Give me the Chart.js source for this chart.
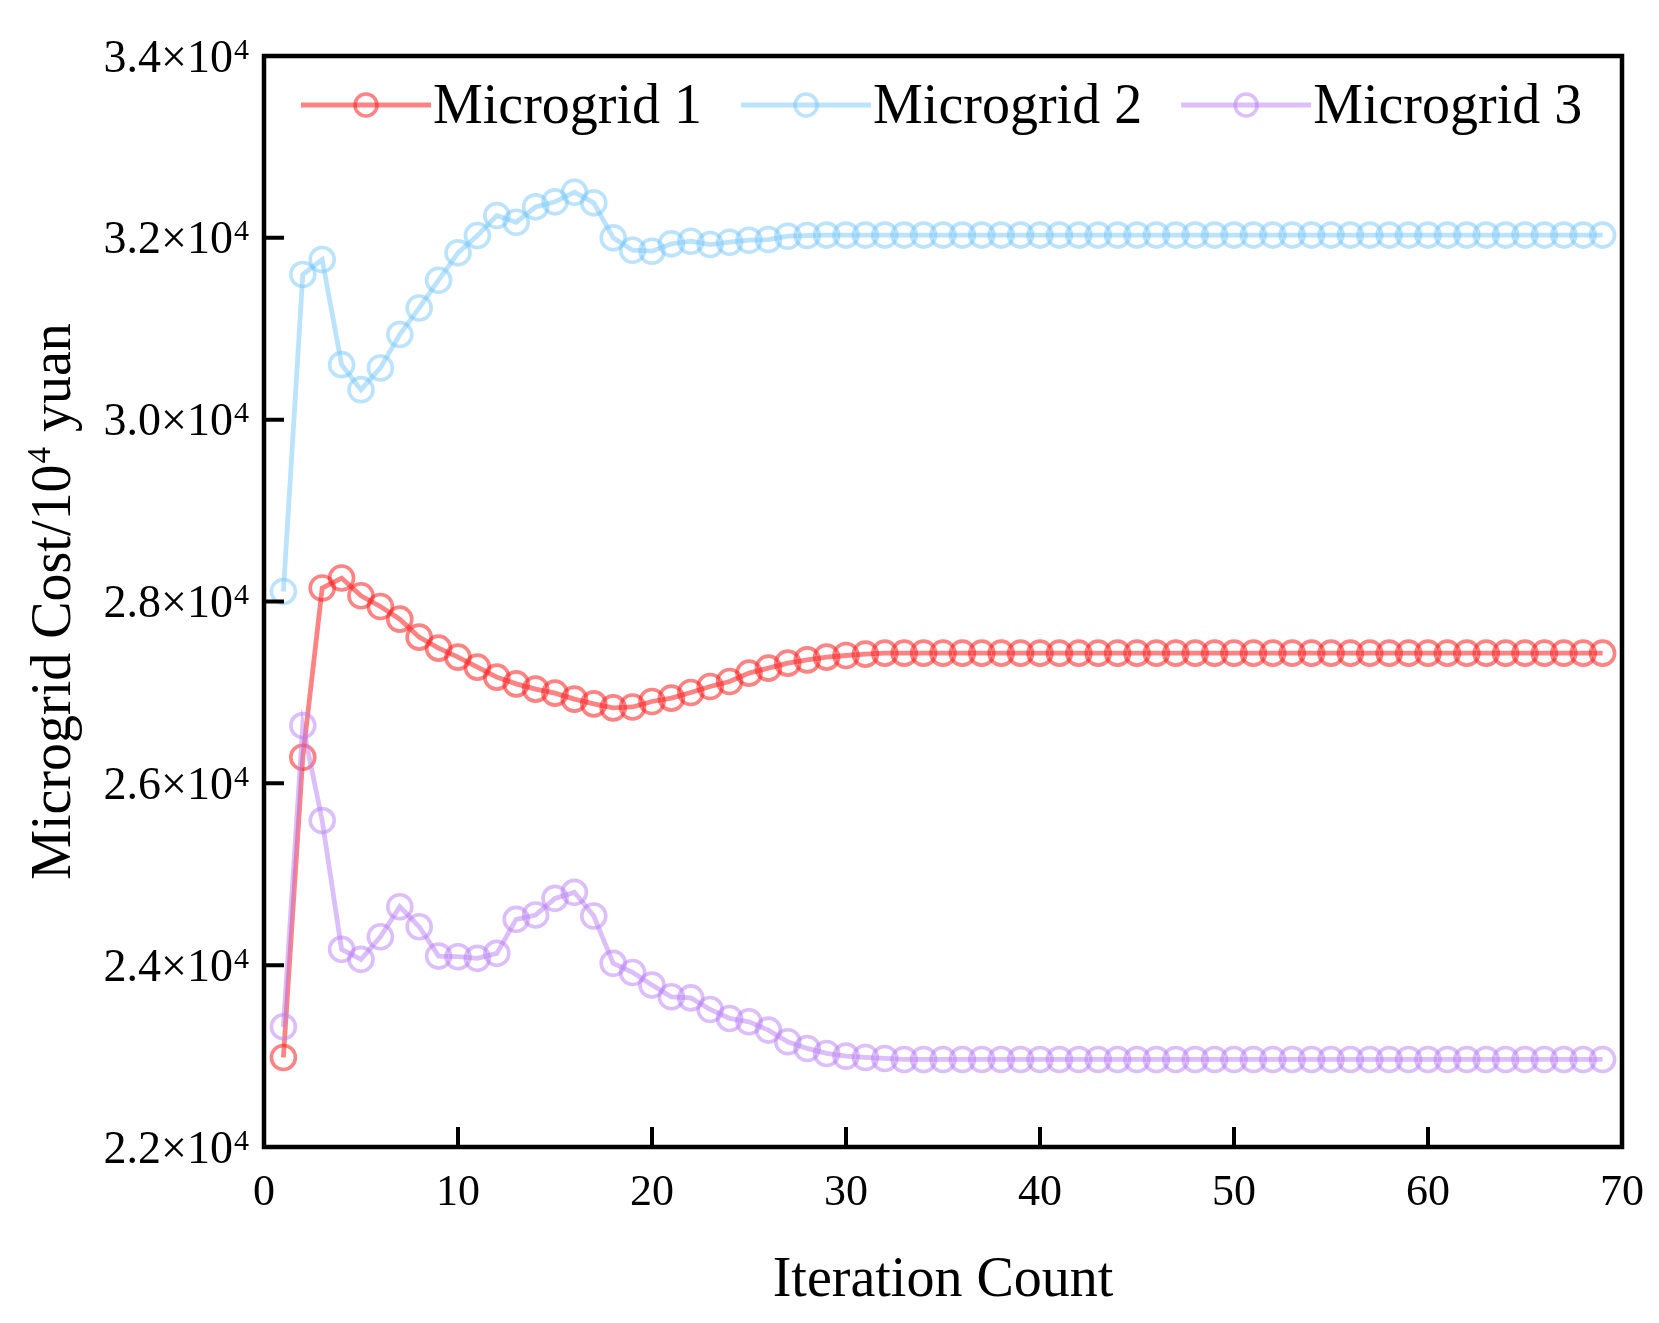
<!DOCTYPE html>
<html>
<head>
<meta charset="utf-8">
<script src="https://cdn.jsdelivr.net/npm/chart.js@4.4.1/dist/chart.umd.min.js"></script>
<style>
html,body{margin:0;padding:0;background:#fff;}
#wrap{width:1659px;height:1323px;position:relative;}
</style>
</head>
<body>
<div id="wrap"><canvas id="c"></canvas></div>
<script>
const iterations = [1,2,3,4,5,6,7,8,9,10,11,12,13,14,15,16,17,18,19,20,
  21,22,23,24,25,26,27,28,29,30,31,32,33,34,35,36,37,38,39,40,
  41,42,43,44,45,46,47,48,49,50,51,52,53,54,55,56,57,58,59,60,
  61,62,63,64,65,66,67,68,69];

const microgrid1 = [22985,26287,28148,28258,28063,27945,27806,27608,27487,27388,
  27278,27168,27094,27036,26992,26926,26874,26830,26840,26900,
  26937,26999,27065,27120,27212,27267,27322,27358,27388,27406,
  27421,27432,27432,27432,27432,27432,27432,27432,27432,27432,
  27432,27432,27432,27432,27432,27432,27432,27432,27432,27432,
  27432,27432,27432,27432,27432,27432,27432,27432,27432,27432,
  27432,27432,27432,27432,27432,27432,27432,27432,27432];

const microgrid2 = [28110,31596,31761,30605,30330,30569,30936,31229,31534,31835,
  32025,32245,32172,32341,32396,32502,32385,32000,31864,31853,
  31934,31963,31926,31952,31974,31981,32018,32025,32030,32030,
  32030,32030,32030,32030,32030,32030,32030,32030,32030,32030,
  32030,32030,32030,32030,32030,32030,32030,32030,32030,32030,
  32030,32030,32030,32030,32030,32030,32030,32030,32030,32030,
  32030,32030,32030,32030,32030,32030,32030,32030,32030];

const microgrid3 = [23322,26635,25590,24174,24064,24313,24643,24423,24100,24093,
  24075,24130,24504,24552,24735,24801,24541,24020,23920,23781,
  23652,23640,23513,23414,23377,23286,23157,23084,23029,22999,
  22985,22974,22963,22963,22963,22963,22963,22963,22963,22963,
  22963,22963,22963,22963,22963,22963,22963,22963,22963,22963,
  22963,22963,22963,22963,22963,22963,22963,22963,22963,22963,
  22963,22963,22963,22963,22963,22963,22963,22963,22963];

const seriesLabels = ['Microgrid 1','Microgrid 2','Microgrid 3'];
const seriesColors = ['rgba(255,30,30,0.55)','rgba(120,200,250,0.5)','rgba(185,125,245,0.5)'];
const seriesOrder = [3,2,1];
const seriesValues = [microgrid1, microgrid2, microgrid3];

const xTitle = 'Iteration Count';
const yTitleParts = ['Microgrid Cost/10', '4', ' yuan'];

const FAMILY = '"Liberation Serif","Times New Roman",serif';
Chart.defaults.font.family = FAMILY;
Chart.defaults.color = '#000';

const datasets = seriesValues.map((vals, i) => ({
  label: seriesLabels[i],
  data: iterations.map((it, k) => ({x: it, y: vals[k]})),
  borderColor: seriesColors[i],
  backgroundColor: 'rgba(0,0,0,0)',
  borderWidth: 4.8,
  pointRadius: 12,
  pointBorderWidth: 3.6,
  pointBorderColor: seriesColors[i],
  pointBackgroundColor: 'rgba(0,0,0,0)',
  tension: 0,
  order: seriesOrder[i],
  clip: false
}));

const framePlugin = {
  id: 'frame',
  afterDatasetsDraw(chart) {
    const {ctx, chartArea: a, scales} = chart;
    const xs = scales.x, ys = scales.y;
    ctx.save();
    ctx.strokeStyle = '#000';
    ctx.lineWidth = 4.5;
    ctx.strokeRect(a.left, a.top, a.right - a.left, a.bottom - a.top);
    ctx.lineWidth = 4;
    ctx.beginPath();
    xs.ticks.forEach(t => {
      const px = xs.getPixelForValue(t.value);
      ctx.moveTo(px, a.bottom);
      ctx.lineTo(px, a.bottom - 20);
    });
    ys.ticks.forEach(t => {
      const py = ys.getPixelForValue(t.value);
      ctx.moveTo(a.left, py);
      ctx.lineTo(a.left + 20, py);
    });
    ctx.stroke();

    // y tick labels with real superscript exponent
    const F = 46, FS = 30, rise = 13;
    ys.ticks.forEach(t => {
      const py = ys.getPixelForValue(t.value);
      const base = (t.value / 10000).toFixed(1) + '\u00d710';
      const sup = '4';
      ctx.font = F + 'px ' + FAMILY;
      const wb = ctx.measureText(base).width;
      ctx.font = FS + 'px ' + FAMILY;
      const ws = ctx.measureText(sup).width;
      const xr = a.left - 16;
      const x0 = xr - wb - ws;
      const baseline = py + 0.338 * F;
      ctx.fillStyle = '#000';
      ctx.textAlign = 'left';
      ctx.textBaseline = 'alphabetic';
      ctx.font = F + 'px ' + FAMILY;
      ctx.fillText(base, x0, baseline);
      ctx.font = FS + 'px ' + FAMILY;
      ctx.fillText(sup, x0 + wb + 1, baseline - rise);
    });

    // y axis title with superscript
    const TF = 56, TS = 33, trise = 20;
    ctx.save();
    ctx.translate(70, (a.top + a.bottom) / 2);
    ctx.rotate(-Math.PI / 2);
    ctx.textBaseline = 'alphabetic';
    ctx.textAlign = 'left';
    ctx.font = TF + 'px ' + FAMILY;
    const w0 = ctx.measureText(yTitleParts[0]).width;
    const w2 = ctx.measureText(yTitleParts[2]).width;
    ctx.font = TS + 'px ' + FAMILY;
    const w1 = ctx.measureText(yTitleParts[1]).width;
    let sx = -(w0 + w1 + w2 + 2) / 2;
    ctx.font = TF + 'px ' + FAMILY;
    ctx.fillText(yTitleParts[0], sx, 0);
    ctx.font = TS + 'px ' + FAMILY;
    ctx.fillText(yTitleParts[1], sx + w0 + 1, -trise);
    ctx.font = TF + 'px ' + FAMILY;
    ctx.fillText(yTitleParts[2], sx + w0 + w1 + 2, 0);
    ctx.restore();

    ctx.restore();
  }
};

const legendPlugin = {
  id: 'innerLegend',
  afterDatasetsDraw(chart) {
    const {ctx, chartArea: a} = chart;
    ctx.save();
    ctx.font = '56px ' + FAMILY;
    ctx.textBaseline = 'middle';
    ctx.textAlign = 'left';
    let x = a.left + 37;
    const y = a.top + 49;
    chart.data.datasets.forEach(ds => {
      ctx.strokeStyle = ds.borderColor;
      ctx.lineWidth = 4.8;
      ctx.beginPath();
      ctx.moveTo(x, y);
      ctx.lineTo(x + 130, y);
      ctx.stroke();
      ctx.lineWidth = 3.6;
      ctx.beginPath();
      ctx.arc(x + 65, y, 11, 0, Math.PI * 2);
      ctx.stroke();
      ctx.fillStyle = '#000';
      ctx.fillText(ds.label, x + 132, y + 3);
      x += 132 + ctx.measureText(ds.label).width + 39;
    });
    ctx.restore();
  }
};

new Chart(document.getElementById('c'), {
  type: 'line',
  data: {datasets},
  options: {
    responsive: true,
    maintainAspectRatio: false,
    animation: false,
    layout: {padding: {top: 56, right: 37, bottom: 0, left: 0}},
    plugins: {legend: {display: false}, tooltip: {enabled: false}},
    scales: {
      x: {
        type: 'linear',
        min: 0, max: 70,
        ticks: {stepSize: 10, font: {size: 44}, padding: 12, maxRotation: 0},
        grid: {display: false},
        border: {display: false},
        title: {display: true, text: xTitle, font: {size: 56}, padding: {top: 20, bottom: 8}},
        afterFit(s) { s.height = 176; }
      },
      y: {
        type: 'linear',
        min: 22000, max: 34000,
        ticks: {stepSize: 2000, display: false},
        grid: {display: false},
        border: {display: false},
        title: {display: false},
        afterFit(s) { s.width = 264; }
      }
    }
  },
  plugins: [framePlugin, legendPlugin]
});
</script>
</body>
</html>
